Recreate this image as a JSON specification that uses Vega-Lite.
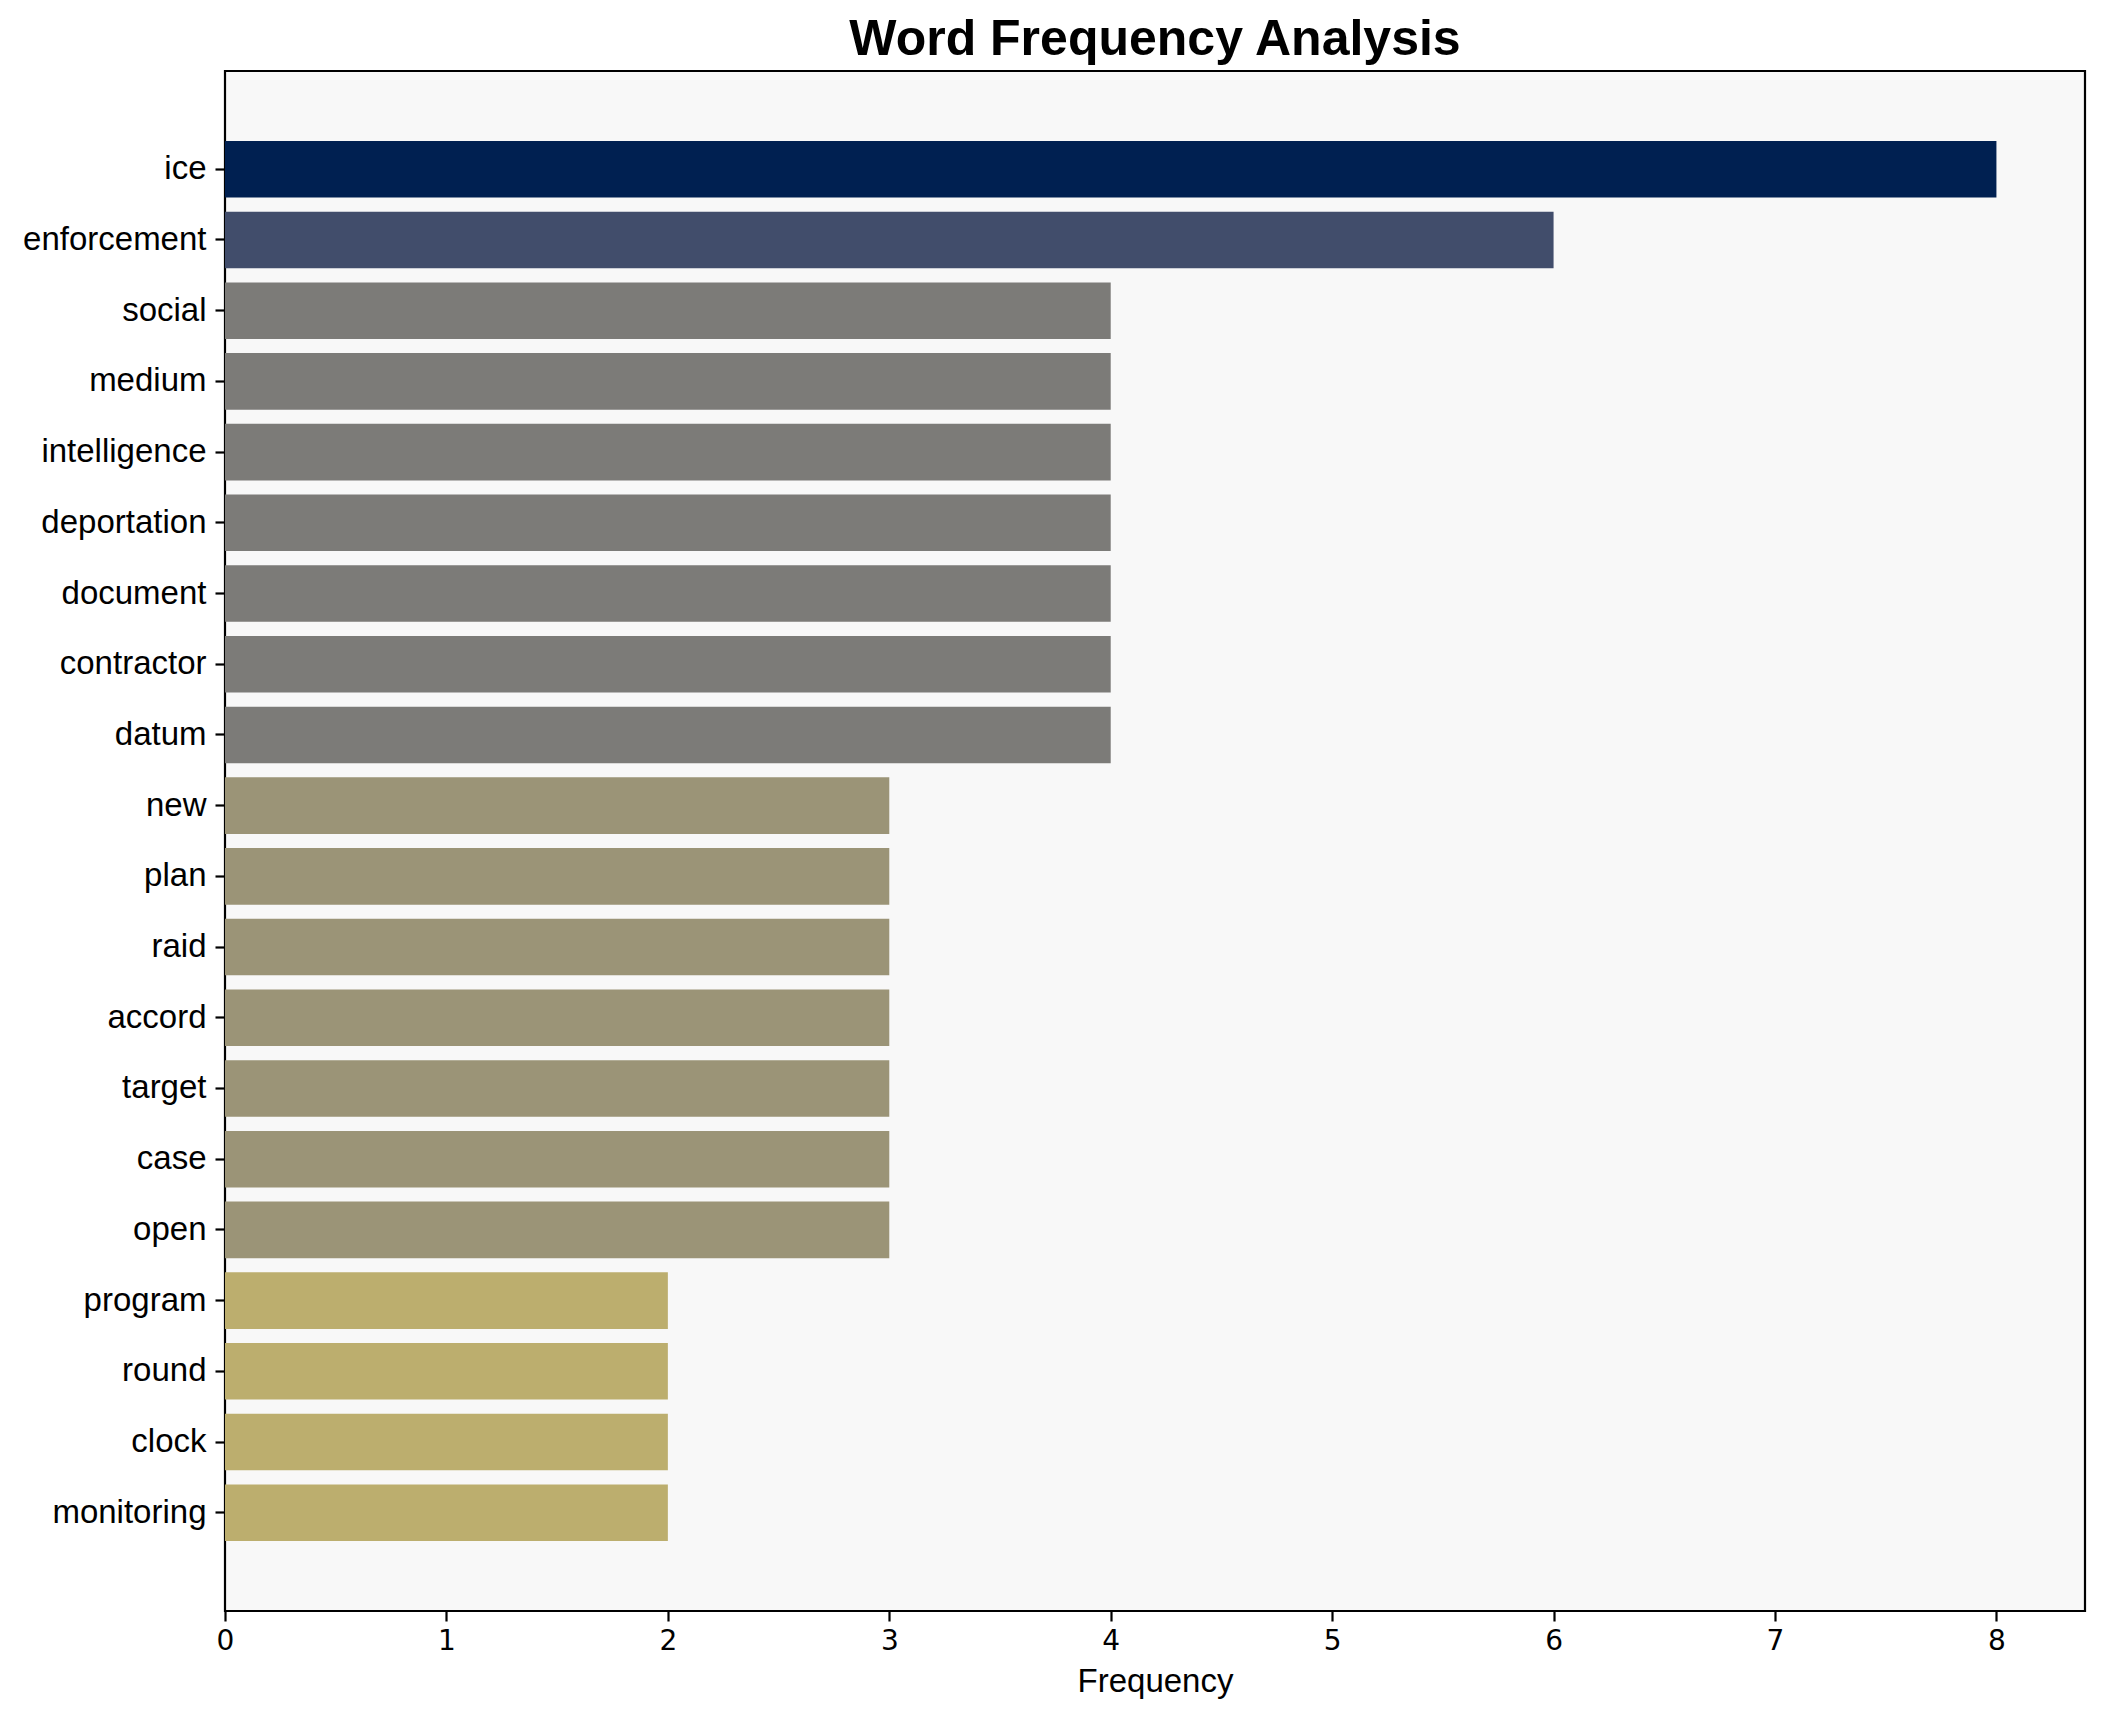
{
  "$schema": "https://vega.github.io/schema/vega-lite/v6.json",
  "autosize": "none",
  "width": 1860,
  "height": 1540,
  "padding": {"left": 225, "top": 71, "right": 19, "bottom": 111},
  "background": "white",
  "title": {
    "text": "Word Frequency Analysis",
    "font": "Liberation Sans",
    "fontSize": 50,
    "fontWeight": "bold",
    "color": "black",
    "anchor": "middle",
    "frame": "group",
    "offset": 6
  },
  "config": {
    "view": {"fill": "#f8f8f8", "stroke": "black", "strokeWidth": 2.2}
  },
  "data": {
    "values": [
      {"word": "ice", "frequency": 8},
      {"word": "enforcement", "frequency": 6},
      {"word": "social", "frequency": 4},
      {"word": "medium", "frequency": 4},
      {"word": "intelligence", "frequency": 4},
      {"word": "deportation", "frequency": 4},
      {"word": "document", "frequency": 4},
      {"word": "contractor", "frequency": 4},
      {"word": "datum", "frequency": 4},
      {"word": "new", "frequency": 3},
      {"word": "plan", "frequency": 3},
      {"word": "raid", "frequency": 3},
      {"word": "accord", "frequency": 3},
      {"word": "target", "frequency": 3},
      {"word": "case", "frequency": 3},
      {"word": "open", "frequency": 3},
      {"word": "program", "frequency": 2},
      {"word": "round", "frequency": 2},
      {"word": "clock", "frequency": 2},
      {"word": "monitoring", "frequency": 2}
    ]
  },
  "mark": {"type": "bar"},
  "encoding": {
    "y": {
      "field": "word",
      "type": "nominal",
      "sort": null,
      "scale": {"paddingInner": 0.2, "paddingOuter": 0.99},
      "axis": {
        "title": null,
        "labelFont": "Liberation Sans",
        "labelFontSize": 33,
        "labelColor": "black",
        "labelPadding": 9,
        "labelLimit": 0,
        "tickColor": "black",
        "tickSize": 10,
        "tickWidth": 2.2,
        "domain": false,
        "grid": false
      }
    },
    "x": {
      "field": "frequency",
      "type": "quantitative",
      "scale": {"domain": [0, 8.4], "nice": false, "zero": true},
      "axis": {
        "title": "Frequency",
        "titleFont": "Liberation Sans",
        "titleFontSize": 33,
        "titleFontWeight": "normal",
        "titleColor": "black",
        "titlePadding": 10,
        "values": [0, 1, 2, 3, 4, 5, 6, 7, 8],
        "format": "d",
        "labelFont": "DejaVu Sans",
        "labelFontSize": 28,
        "labelColor": "black",
        "labelPadding": 6,
        "labelFlush": false,
        "tickColor": "black",
        "tickSize": 10,
        "tickWidth": 2.2,
        "domain": false,
        "grid": false
      }
    },
    "color": {
      "field": "frequency",
      "type": "ordinal",
      "scale": {
        "domain": [2, 3, 4, 6, 8],
        "range": ["#bcae6e", "#9b9477", "#7c7b78", "#414d6b", "#002051"]
      },
      "legend": null
    }
  }
}
